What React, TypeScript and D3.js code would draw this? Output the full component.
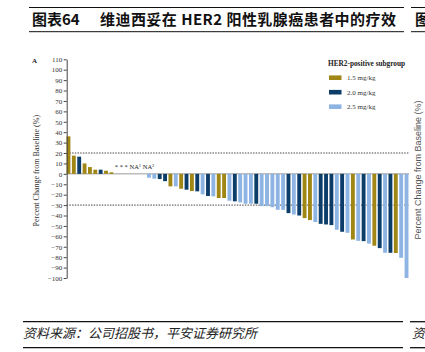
import { useEffect, useRef } from 'react';
import * as d3 from 'd3';

// legend / dose groups
const doseLabels = ['1.5 mg/kg', '2.0 mg/kg', '2.5 mg/kg'];
const doseColors = ['#a08614', '#0c3d69', '#8db4e3'];

// best % change per patient, sorted waterfall (null = not evaluable, shown as * / NA)
const pctChange: (number | null)[] = [
  36, 17.5, 16.5, 10, 6.5, 4, 4, 3, 1.5,
  null, null, null, null, null, null,
  -3.7, -4.6, -5, -7, -12, -12, -14.3, -15.2, -16.5, -16.8,
  -19.7, -21.3, -21.6, -23.2, -23.2, -25.8, -26.4, -27.4, -28.7, -28.7,
  -28.7, -31, -31, -32, -34.5, -34.5, -37.7, -39, -40, -42.5,
  -44.4, -46.3, -48, -48.6, -49.2, -53.7, -55.6, -56.6, -63, -64.3,
  -64.6, -67, -69, -71.3, -75.8, -75.8, -76, -80.6, -100,
];
// index into doseLabels
const doseGroup = [
  0, 0, 1, 0, 0, 0, 1, 0, 0,
  2, 2, 2, 2, 2, 2,
  2, 2, 1, 1, 0, 2, 0, 1, 0, 1,
  2, 1, 2, 0, 0, 2, 1, 2, 2, 2,
  1, 2, 2, 2, 2, 2, 1, 2, 1, 0,
  0, 2, 1, 1, 1, 2, 1, 2, 0, 2,
  1, 2, 0, 1, 2, 1, 0, 2, 2,
];
const yTicks = d3.range(-100, 111, 10);
const refLines = [20, -30];

const serif = '"Liberation Serif", "DejaVu Serif", serif';
const cjk = '"Noto Sans CJK SC", sans-serif';

const App = () => {
  const svgRef = useRef<SVGSVGElement>(null);

  useEffect(() => {
    const svg = d3.select(svgRef.current);
    svg.selectAll('*').remove();

    const ids = pctChange.map((_, i) => `p${i}`);
    const x = d3.scaleBand().domain(ids).range([66, 409]).paddingInner(0.28).paddingOuter(0.1);
    const y = d3.scaleLinear().domain([-100, 110]).range([278, 59.3]);
    const axisX = 66.7;

    // title block
    const head = svg.append('g');
    [7.5, 31.7].forEach(yy => {
      head.append('line').attr('x1', 29).attr('x2', 404).attr('y1', yy).attr('y2', yy)
        .attr('stroke', '#111').attr('stroke-width', 1);
      head.append('line').attr('x1', 411).attr('x2', 425).attr('y1', yy).attr('y2', yy)
        .attr('stroke', '#111').attr('stroke-width', 1);
    });
    head.append('text').attr('x', 32).attr('y', 25).attr('font-family', cjk)
      .attr('font-size', 15).attr('font-weight', 'bold').attr('fill', '#111').text('图表64');
    head.append('text').attr('x', 100).attr('y', 25).attr('font-family', cjk)
      .attr('font-size', 15).attr('font-weight', 'bold').attr('fill', '#111')
      .attr('textLength', 296).attr('lengthAdjust', 'spacing')
      .text('维迪西妥在 HER2 阳性乳腺癌患者中的疗效');
    head.append('text').attr('x', 415).attr('y', 25).attr('font-family', cjk)
      .attr('font-size', 15).attr('font-weight', 'bold').attr('fill', '#111').text('图');

    // footer
    const foot = svg.append('g');
    [[321.7, 1.3], [347.7, 1.3]].forEach(([yy, sw]) => {
      foot.append('line').attr('x1', 23).attr('x2', 403).attr('y1', yy).attr('y2', yy)
        .attr('stroke', '#111').attr('stroke-width', sw);
      foot.append('line').attr('x1', 410).attr('x2', 425).attr('y1', yy).attr('y2', yy)
        .attr('stroke', '#111').attr('stroke-width', sw);
    });
    foot.append('text').attr('x', 23).attr('y', 338).attr('font-family', cjk)
      .attr('font-size', 13).attr('font-style', 'italic').attr('fill', '#222')
      .text('资料来源：公司招股书，平安证券研究所');
    foot.append('text').attr('x', 412).attr('y', 338).attr('font-family', cjk)
      .attr('font-size', 13).attr('font-style', 'italic').attr('fill', '#222').text('资');

    const g = svg.append('g');

    // zero line + reference lines
    g.append('line').attr('x1', axisX).attr('x2', 409).attr('y1', y(0)).attr('y2', y(0))
      .attr('stroke', '#9a9a9a').attr('stroke-width', 1);
    g.selectAll('.ref').data(refLines).enter().append('line')
      .attr('x1', axisX).attr('x2', 409).attr('y1', d => y(d)).attr('y2', d => y(d))
      .attr('stroke', '#333').attr('stroke-width', 0.9).attr('stroke-dasharray', '1.5,1.2');

    // bars
    g.selectAll('.bar').data(pctChange.map((v, i) => ({ v, i })).filter(d => d.v !== null))
      .enter().append('rect')
      .attr('x', d => x(ids[d.i])!)
      .attr('width', x.bandwidth())
      .attr('y', d => y(Math.max(0, d.v!)))
      .attr('height', d => Math.abs(y(d.v!) - y(0)))
      .attr('fill', d => doseColors[doseGroup[d.i]]);

    // NA annotation
    const na = g.append('text').attr('x', x('p9')!).attr('y', y(0) - 4.5)
      .attr('font-family', serif).attr('font-size', 6.5).attr('fill', '#222');
    na.append('tspan').text('* * * NA');
    na.append('tspan').attr('font-size', 4.5).attr('dy', -2.5).text('1');
    na.append('tspan').attr('font-size', 6.5).attr('dy', 2.5).text(' NA');
    na.append('tspan').attr('font-size', 4.5).attr('dy', -2.5).text('2');

    // y axis
    const ax = g.append('g').attr('transform', `translate(${axisX},0)`)
      .call(d3.axisLeft(y).tickValues(yTicks).tickSize(3).tickSizeOuter(0).tickPadding(1.5));
    ax.selectAll('.domain').attr('stroke', '#444');
    ax.selectAll('.tick line').attr('stroke', '#444');
    ax.selectAll('.tick text').attr('font-family', serif).attr('font-size', 7).attr('fill', '#333');

    g.append('text')
      .attr('transform', `translate(39,${(y(110) + y(-100)) / 2 + 2}) rotate(-90)`)
      .attr('text-anchor', 'middle').attr('font-family', serif).attr('font-size', 8)
      .attr('fill', '#333').text('Percent Change from Baseline (%)');
    g.append('text').attr('x', 32).attr('y', 63).attr('font-family', serif)
      .attr('font-size', 7).attr('font-weight', 'bold').attr('fill', '#222').text('A');

    // neighbouring panel's axis title (cut by the right edge)
    g.append('text').attr('transform', 'translate(421,170) rotate(-90)')
      .attr('text-anchor', 'middle').attr('font-family', '"Liberation Sans", sans-serif')
      .attr('font-size', 9).attr('fill', '#555').text('Percent Change from Baseline (%)');

    // legend
    const lg = g.append('g');
    lg.append('text').attr('x', 328).attr('y', 66).attr('font-family', serif)
      .attr('font-size', 7.3).attr('font-weight', 'bold').attr('fill', '#222')
      .text('HER2-positive subgroup');
    const rows = [77.7, 92.2, 106.7];
    doseLabels.forEach((lab, i) => {
      lg.append('rect').attr('x', 329).attr('y', rows[i] - 2.3).attr('width', 12.5).attr('height', 4.6)
        .attr('fill', doseColors[i]);
      lg.append('text').attr('x', 347).attr('y', rows[i]).attr('dy', '0.35em')
        .attr('font-family', serif).attr('font-size', 7).attr('fill', '#333').text(lab);
    });
  }, []);

  return (
    <svg
      ref={svgRef}
      width={425}
      height={352}
      style={{ position: 'absolute', left: 0, top: 0, background: '#fff' }}
    />
  );
};

export default App;
